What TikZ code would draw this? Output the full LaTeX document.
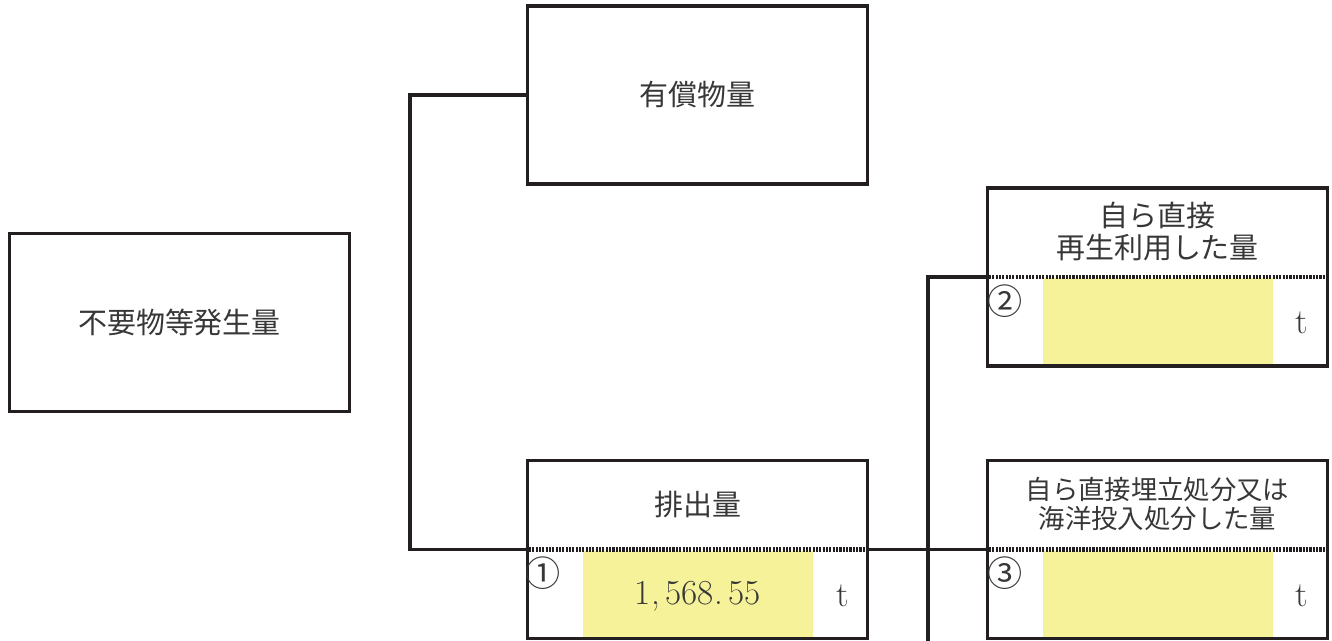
\documentclass[tikz,border=0pt]{standalone}
\usepackage{fontspec}
\usepackage{tikz}
\newfontfamily\jp{Noto Sans CJK JP}
\usetikzlibrary{calc,positioning}

\definecolor{inkline}{RGB}{35,31,32}
\definecolor{inktext}{RGB}{55,55,55}
\definecolor{entryfill}{RGB}{246,242,154}

\tikzset{
  box/.style={draw=inkline, line width=2.2pt, inner sep=0pt,
    minimum width=6.8cm, minimum height=3.56cm},
  link/.style={draw=inkline, line width=2.2pt},
  divider/.style={draw=inkline, line width=2.4pt, dash pattern=on 1.2pt off 0.7pt},
  entry/.style={fill=entryfill, draw=none},
  caption/.style={text=inktext, align=center, font=\jp\fontsize{16.5}{18.2}\selectfont},
  smallcaption/.style={text=inktext, align=center, font=\jp\fontsize{15}{17}\selectfont},
  circnum/.style={text=inktext, font=\jp\fontsize{20}{22}\selectfont},
  amount/.style={text=inktext, font=\fontsize{20}{22}\selectfont},
}

\begin{document}
\begin{tikzpicture}[x=0.02cm,y=-0.02cm]
\useasboundingbox (0,0) rectangle (1332,641);

% boxes
\node[box] (gen) at (179.5,322.5) {};
\node[box] (yusho) at (697.5,95) {};
\node[box] (haishutsu) at (697.5,549.5) {};
\node[box] (saisei) at (1157.5,277) {};
\node[box] (umetate) at (1157.5,549.5) {};

% yellow input fields, then the dotted split and the frame again on top
\foreach \b in {haishutsu,saisei,umetate}{
  \fill[entry] ($(\b.center)+(-114.5,1.5)$) rectangle ($(\b.south)+(115.5,-1)$);
  \draw[divider] (\b.west) -- (\b.east);
  \node[box] at (\b.center) {};
}

% labels
\node[caption] (gen-text) at (gen.center) {不要物等発生量};
\node[caption] (yusho-text) at (yusho.center) {有償物量};
\node[caption] (haishutsu-text) at ($(haishutsu.north)!0.5!(haishutsu.center)$) {排出量};
\node[caption] (saisei-text) at ($(saisei.north)!0.5!(saisei.center)$) {自ら直接\\再生利用した量};
\node[smallcaption] (umetate-text) at ($(umetate.north)!0.5!(umetate.center)$) {自ら直接埋立処分又は\\海洋投入処分した量};

\node[circnum] (no1) at ($(haishutsu.center)+(-154,24)$) {①};
\node[circnum] (no2) at ($(saisei.center)+(-152.5,24)$) {②};
\node[circnum] (no3) at ($(umetate.center)+(-152.5,24)$) {③};

\node[amount] (value1) at ($(haishutsu.center)+(0.5,47)$) {1,\,568.\,55};
\node[amount] (unit1) at ($(haishutsu.center)+(145.5,46)$) {t};
\node[amount] (unit2) at ($(saisei.center)+(144.5,46)$) {t};
\node[amount] (unit3) at ($(umetate.center)+(144.5,46)$) {t};

% connectors
\coordinate (split) at (410,95);
\coordinate (trunk) at (928,641);
\draw[link] (yusho.west) -- (split) |- (haishutsu.west);
\draw[link] (haishutsu.east) -- (umetate.west);
\draw[link] (saisei.west) -| (trunk);

\end{tikzpicture}
\end{document}
